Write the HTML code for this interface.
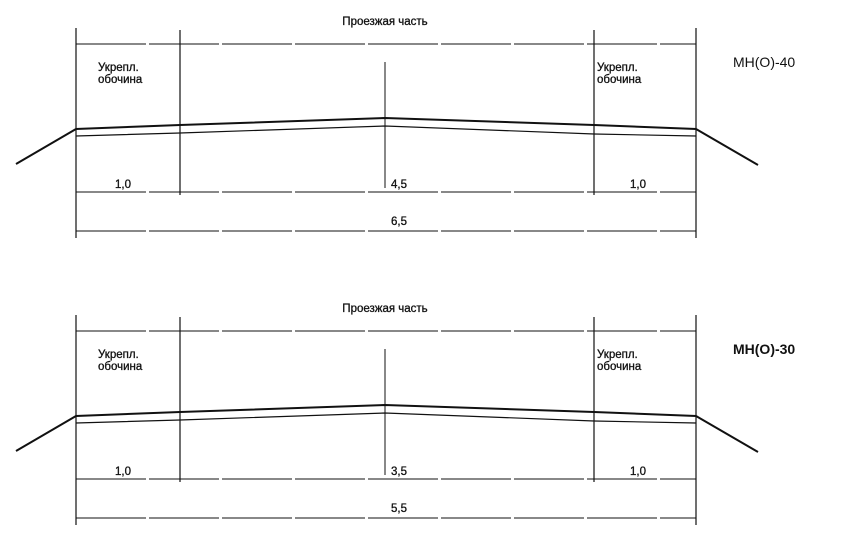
<!DOCTYPE html>
<html><head><meta charset="utf-8"><style>
html,body{margin:0;padding:0;background:#fff;}
svg{display:block;}
text{font-family:"Liberation Sans",sans-serif;fill:#111;}
</style></head><body>
<svg width="847" height="543" viewBox="0 0 847 543" xmlns="http://www.w3.org/2000/svg">
<defs>
<g id="d" stroke="#111" fill="none">
  <line x1="76" y1="28" x2="76" y2="238" stroke-width="1.2"/>
  <line x1="696" y1="28" x2="696" y2="238" stroke-width="1.2"/>
  <line x1="180" y1="30" x2="180" y2="195" stroke-width="1.2"/>
  <line x1="594" y1="30" x2="594" y2="195" stroke-width="1.2"/>
  <line x1="385" y1="62" x2="385" y2="188" stroke-width="1"/>
  <line x1="76" y1="44" x2="696" y2="44" stroke-width="1" stroke-dasharray="70,3"/>
  <line x1="76" y1="192" x2="696" y2="192" stroke-width="1" stroke-dasharray="70,3"/>
  <line x1="76" y1="231" x2="696" y2="231" stroke-width="1" stroke-dasharray="70,3"/>
  <polyline points="16,164 76,129 180,125 385,118 594,125 696,129 758,165" stroke-width="2"/>
  <polyline points="76,136 180,133 385,126 594,134 696,136" stroke-width="1.2"/>
</g>
</defs>
<use href="#d"/>
<use href="#d" y="287"/>
<g font-size="11.5" stroke="#111" stroke-width="0.3">
<text x="385" y="25" text-anchor="middle">Проезжая часть</text>
<text x="98" y="71">Укрепл.</text><text x="98" y="83">обочина</text>
<text x="597" y="71">Укрепл.</text><text x="597" y="83">обочина</text>
<text x="123" y="188" text-anchor="middle">1,0</text>
<text x="399" y="188" text-anchor="middle">4,5</text>
<text x="638" y="188" text-anchor="middle">1,0</text>
<text x="399" y="225" text-anchor="middle">6,5</text>
<text x="385" y="312" text-anchor="middle">Проезжая часть</text>
<text x="98" y="358">Укрепл.</text><text x="98" y="370">обочина</text>
<text x="597" y="358">Укрепл.</text><text x="597" y="370">обочина</text>
<text x="123" y="475" text-anchor="middle">1,0</text>
<text x="399" y="475" text-anchor="middle">3,5</text>
<text x="638" y="475" text-anchor="middle">1,0</text>
<text x="399" y="512" text-anchor="middle">5,5</text>
</g>
<text x="733" y="67" font-size="14">МН(О)-40</text>
<text x="733" y="354" font-size="14" font-weight="bold">МН(О)-30</text>
</svg>
</body></html>
